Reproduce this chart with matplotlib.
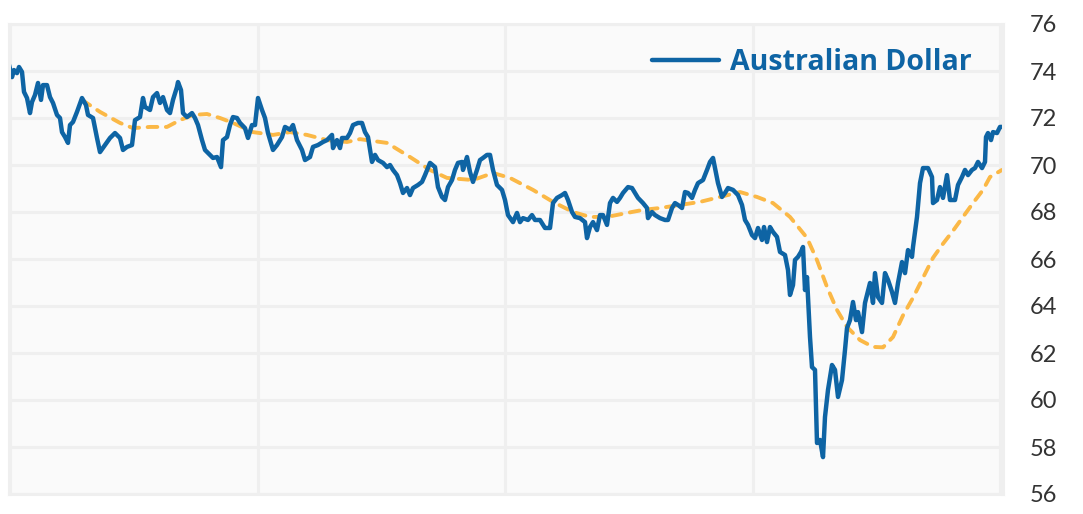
import matplotlib
matplotlib.use("Agg")
import matplotlib.pyplot as plt
import numpy as np

# daily AUD (US cents), day index from start of window
aud_days = [0, 3, 5, 8, 10, 13, 15, 18, 21, 23, 26, 29, 32, 34, 38, 41, 44, 48, 51, 53, 56, 59, 61, 64, 68, 73, 77, 79, 84, 88, 91, 96, 101, 106, 111, 114, 118, 123, 126, 131, 134,
            136, 141, 144, 148, 151, 154, 158, 161, 164, 168, 169, 172, 174, 178, 183, 186, 189, 193, 196, 201, 204, 208, 212, 214, 218, 221, 224, 228, 231, 236, 239, 243, 246, 249, 253, 256, 259, 264, 268, 273, 276,
            281, 284, 288, 293, 296, 301, 304, 309, 314, 318, 323, 324, 328, 331, 333, 338, 341, 344, 349, 353, 356, 359, 363, 366, 369, 374, 378, 381, 384, 388, 391, 394, 398, 401, 404, 409, 413, 416, 421,
            426, 429, 433, 436, 439, 443, 446, 449, 453, 454, 458, 461, 464, 468, 471, 474, 478, 481, 484, 488, 493, 496, 499, 504, 508, 511, 514, 519, 523, 526, 531, 536, 541, 544, 548, 553, 556, 559, 563, 566,
            571, 576, 578, 581, 584, 588, 591, 594, 598, 601, 604, 608, 611, 614, 619, 623, 626, 629, 634, 638, 639, 643, 646, 651, 656, 659, 663, 666, 669, 673, 676, 679, 683, 686, 689, 694, 698, 701, 704, 706, 709, 713,
            716, 719, 724, 729, 733, 736, 739, 743, 746, 749, 753, 755, 758, 761, 764, 768, 771, 776, 779, 781, 784, 786, 789, 792, 794, 796, 798, 801, 803, 806, 808, 811, 814, 816, 819, 823, 826, 829, 833, 836, 838, 841, 844, 847, 849, 853, 856,
            861, 864, 866, 869, 873, 876, 879, 883, 886, 889, 893, 896, 899, 903, 904, 908, 911, 914, 919, 923, 924, 928, 931, 934, 938, 941, 946, 949, 953, 956, 959, 963, 966, 969, 973, 976, 977, 979, 982, 984, 988, 991, 994]

aud = [74.26, 73.74, 74.04, 73.91, 74.17, 73.96, 73.11, 72.85, 72.21, 72.68, 72.98, 73.49, 72.77, 73.40, 73.40, 72.89, 72.64, 72.13, 72.00, 71.40, 71.19, 70.94, 71.70, 71.83, 72.26, 72.85, 72.55, 72.13, 72.00, 71.15, 70.55, 70.85, 71.15, 71.36, 71.15, 70.64, 70.77, 70.85, 71.91, 72.04, 72.85,
       72.47, 72.34, 72.89, 73.06, 72.64, 72.89, 72.34, 72.21, 72.77, 73.32, 73.53, 73.19, 72.21, 72.04, 72.21, 72.00, 71.70, 71.06, 70.64, 70.43, 70.30, 70.34, 69.91, 71.06, 71.19, 71.70, 72.04, 72.00, 71.79, 71.57, 71.15, 71.70, 71.70, 72.85, 72.34, 72.00, 71.36, 70.64, 70.85, 71.19, 71.62,
       71.50, 71.70, 71.06, 70.64, 70.21, 70.34, 70.77, 70.85, 70.98, 71.06, 71.28, 70.72, 71.06, 70.72, 71.15, 71.15, 71.36, 71.70, 71.79, 71.79, 71.40, 71.19, 70.13, 70.43, 70.21, 70.09, 69.91, 70.00, 69.79, 69.57, 69.23, 68.81, 69.02, 68.72, 69.02, 69.15, 69.28, 69.57, 70.09,
       69.91, 69.06, 68.64, 68.51, 69.06, 69.36, 69.79, 70.09, 70.13, 69.79, 70.34, 69.70, 69.28, 69.79, 70.21, 70.30, 70.43, 70.43, 69.79, 69.15, 68.94, 68.51, 67.87, 67.57, 67.96, 67.57, 67.74, 67.66, 67.87, 67.66, 67.66, 67.32, 67.32, 68.38, 68.60, 68.72, 68.81, 68.51, 68.00, 67.79,
       67.74, 67.57, 66.89, 67.36, 67.57, 67.23, 67.87, 67.87, 67.45, 68.38, 68.60, 68.43, 68.60, 68.81, 69.06, 69.02, 68.81, 68.60, 68.38, 68.17, 67.74, 68.00, 67.87, 67.74, 67.66, 67.66, 68.17, 68.38, 68.30, 68.17, 68.85, 68.81, 68.60, 68.94, 69.23, 69.36, 69.79, 70.13, 70.30, 69.87, 69.23, 68.64,
       68.81, 69.02, 68.94, 68.72, 68.30, 67.66, 67.45, 67.02, 66.89, 67.32, 66.81, 67.36, 66.72, 67.36, 67.15, 66.94, 66.30, 66.17, 65.53, 64.47, 64.89, 65.96, 66.09, 66.30, 66.51, 64.68, 65.23, 62.68, 61.40, 61.28, 58.17, 58.30, 57.57, 59.28, 60.43, 61.49, 61.28, 60.13, 60.85, 62.13, 63.06, 63.40, 64.17, 63.40, 63.74, 62.89, 64.13,
       64.98, 64.13, 65.40, 64.38, 64.13, 65.40, 65.11, 64.60, 64.13, 64.98, 65.87, 65.40, 66.38, 66.09, 66.51, 67.79, 69.23, 69.87, 69.87, 69.49, 68.38, 68.51, 69.06, 68.60, 69.57, 68.51, 68.51, 69.15, 69.49, 69.79, 69.57, 69.79, 69.87, 70.13, 69.87, 70.13, 71.19, 71.36, 71.06, 71.40, 71.36, 71.62, 71.62]

# moving average
ma_days = [73, 91, 111, 124, 141, 158, 171, 184, 198, 211, 224, 244, 264, 281, 298, 318, 338, 351, 378, 401,
           421, 438, 464, 484, 501, 524, 544, 564, 581, 598, 618, 634, 651, 671, 691, 711, 731, 748, 764, 781,
           798, 808, 818, 828, 838, 851, 864, 874, 884, 894, 904, 914, 924, 934, 944, 954, 964, 974, 981, 993]
ma = [72.77, 72.26, 71.79, 71.57, 71.62, 71.62, 71.91, 72.13, 72.17, 72.00, 71.79, 71.40, 71.28, 71.40, 71.28, 71.06, 70.98, 71.10, 70.94, 70.34,
      69.79, 69.45, 69.36, 69.66, 69.45, 68.94, 68.43, 68.00, 67.79, 67.79, 67.96, 68.09, 68.17, 68.30, 68.43, 68.64, 68.85, 68.64, 68.38, 67.79,
      66.90, 65.95, 64.81, 63.83, 63.11, 62.55, 62.26, 62.24, 62.68, 63.60, 64.35, 65.20, 66.05, 66.65, 67.20, 67.79, 68.38, 68.94, 69.49, 69.79]

y_ticks = [56, 58, 60, 62, 64, 66, 68, 70, 72, 74, 76]

blue = "#0e64a4"
orange = "#fbb846"
gridc = "#efefef"

fig = plt.figure(figsize=(10.83, 5.14), dpi=100)
ax = fig.add_axes([9/1083, 20/514, 994/1083, 470/514])
ax.set_facecolor("#fafafa")

ax.plot(ma_days, ma, color=orange, lw=2.8, dashes=(2.5, 2.2), dash_capstyle="round")
line, = ax.plot(aud_days, aud, color=blue, lw=3.2, solid_joinstyle="round", solid_capstyle="round")

ax.set_xlim(0, 994)
ax.set_ylim(56, 76)
ax.set_xticks(np.linspace(1, 991, 5))
ax.set_yticks(y_ticks)
ax.grid(color=gridc, lw=2.2)
ax.set_axisbelow(True)
for s in ax.spines.values():
    s.set_color(gridc)
    s.set_linewidth(2.2)

ax.yaxis.tick_right()
ax.tick_params(axis="x", length=0, labelbottom=False)
ax.tick_params(axis="y", length=0, pad=19, labelsize=17, labelcolor="#333333")
for lab in ax.get_yticklabels():
    lab.set_family(["Lato", "DejaVu Sans"])

leg = ax.legend([line], ["Australian Dollar"], loc="upper right", frameon=False,
                bbox_to_anchor=(0.969, 0.948), borderpad=0, borderaxespad=0,
                handlelength=2.35, handletextpad=0.4,
                prop={"family": ["Open Sans", "DejaVu Sans"], "weight": "bold", "size": 20.5})
for t in leg.get_texts():
    t.set_color(blue)

fig.savefig("out.png", dpi=100)
